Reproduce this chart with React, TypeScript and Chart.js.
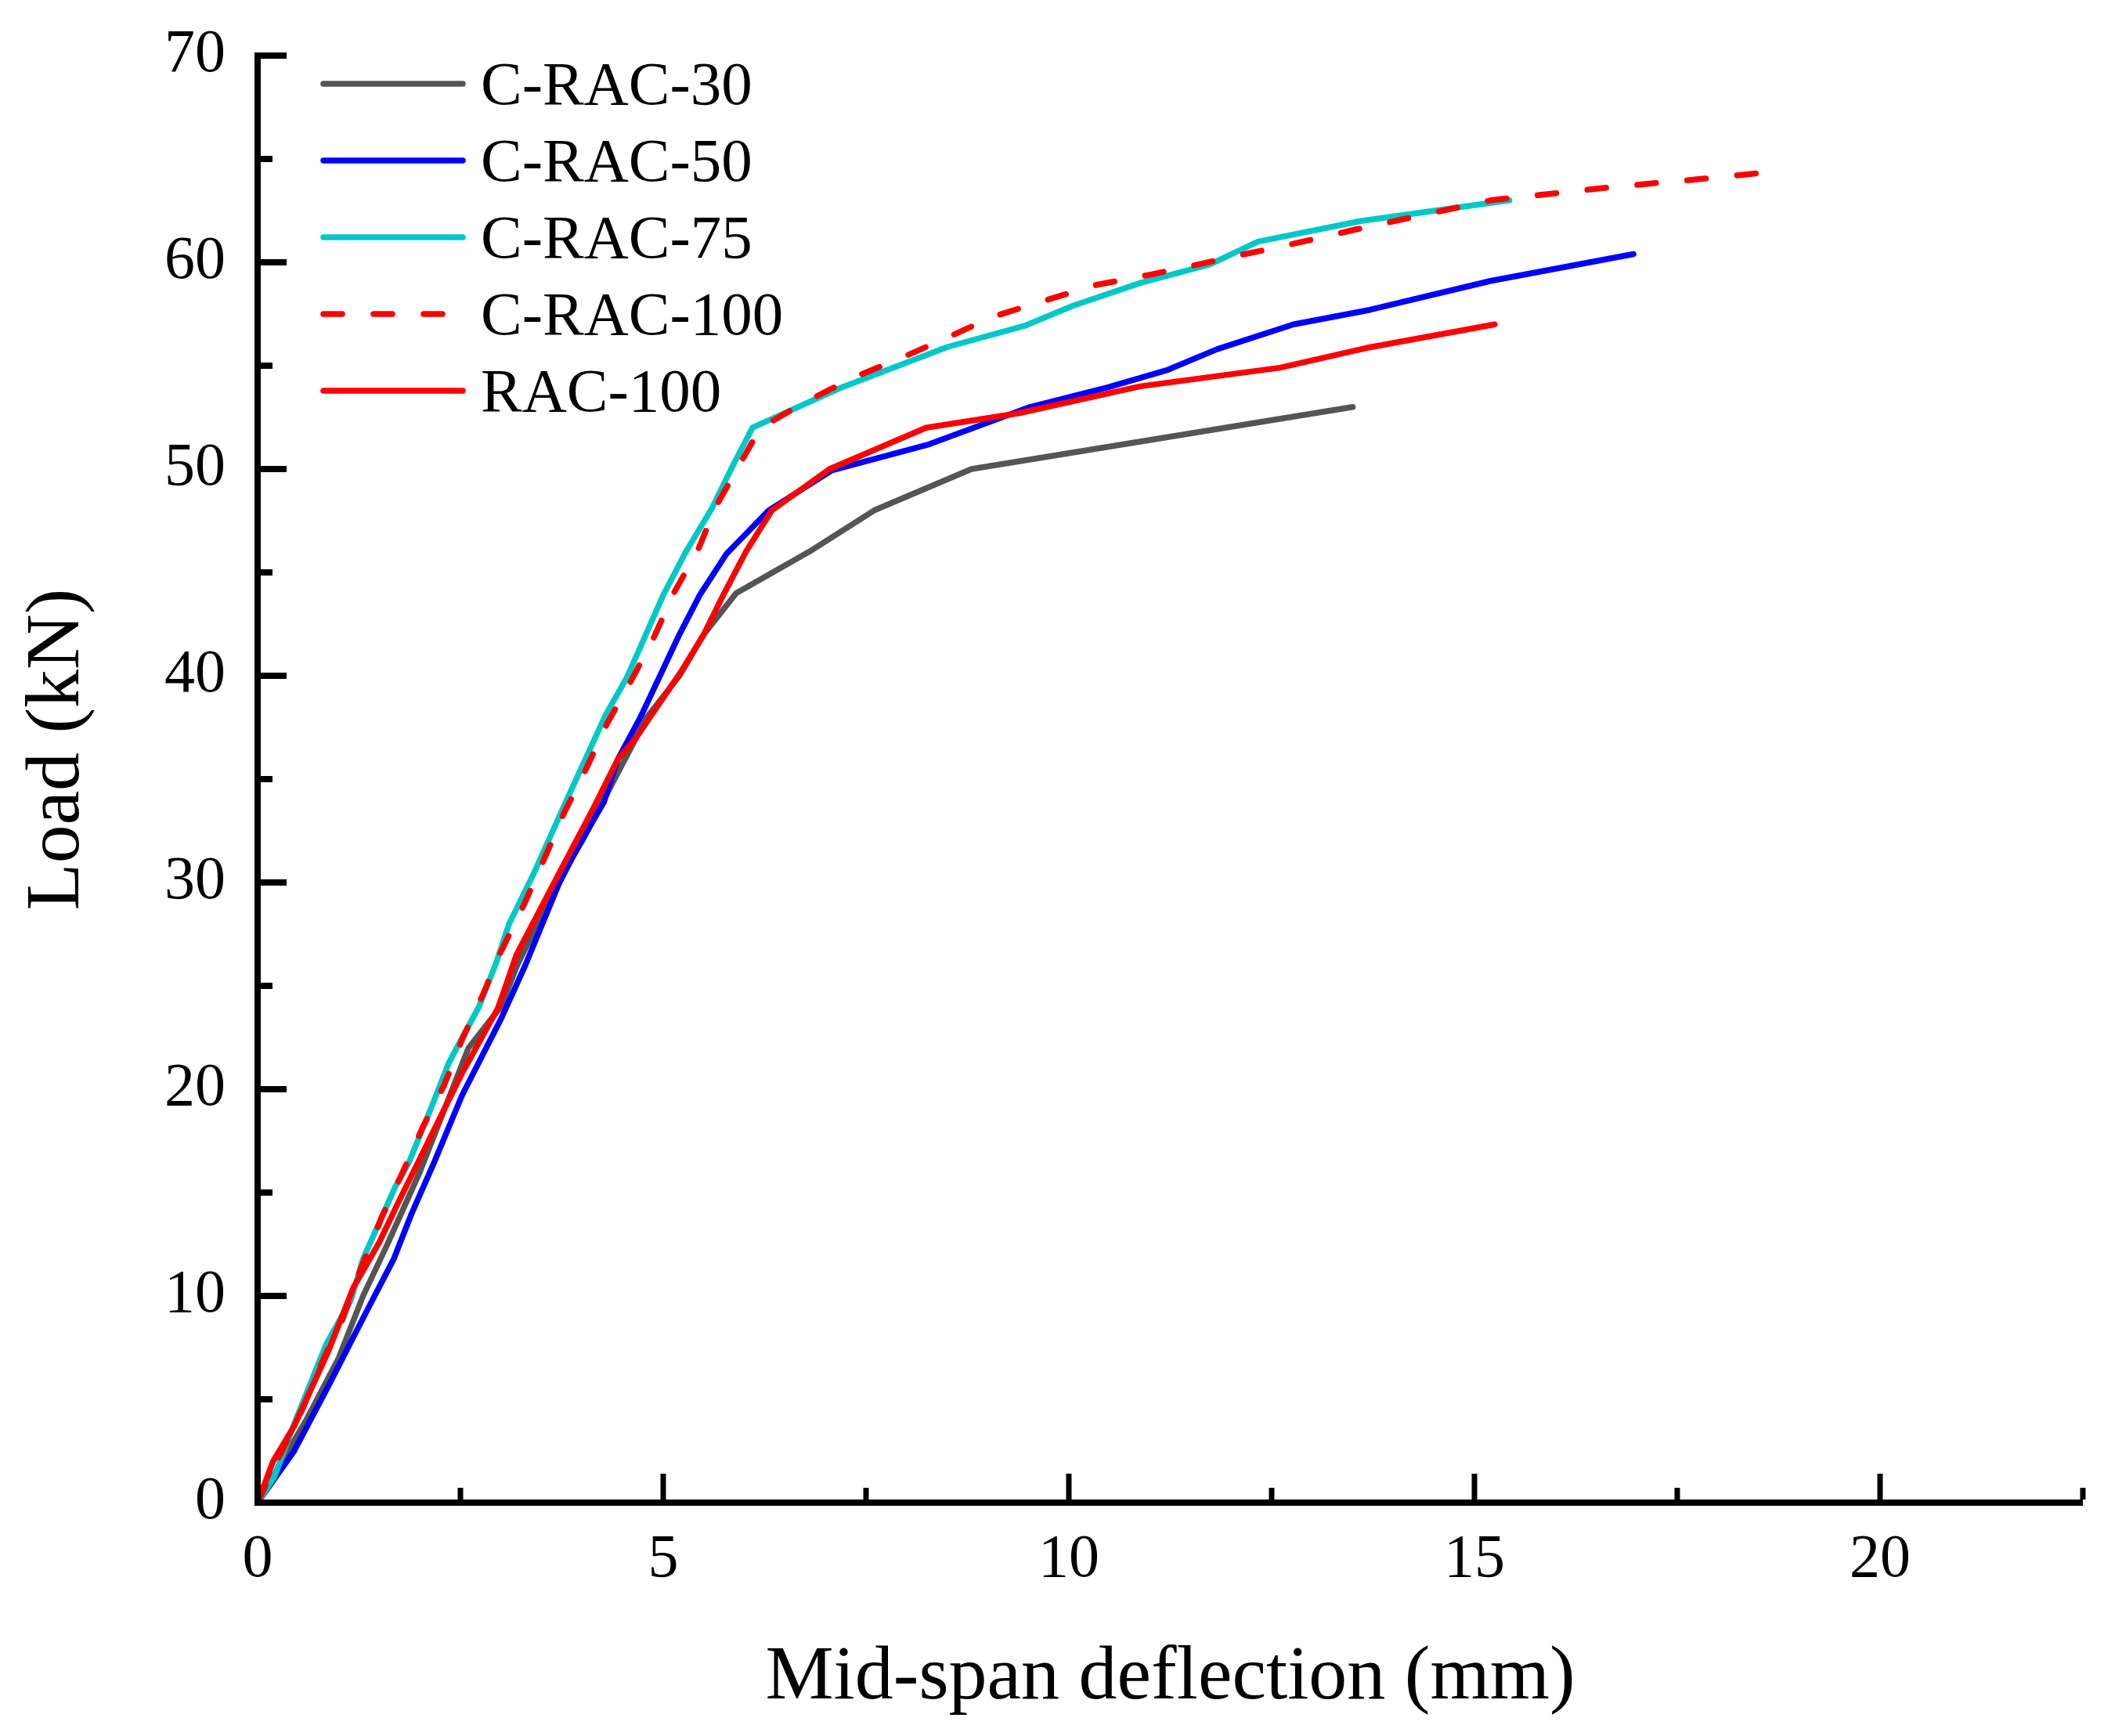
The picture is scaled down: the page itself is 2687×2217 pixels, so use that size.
import React, { useEffect, useRef } from "react";
import { Chart, registerables, ChartConfiguration, Plugin } from "chart.js";

Chart.register(...registerables);

// Mid-span deflection (mm) / load (kN)
const crac30X = [0, 0.3, 0.6, 1.0, 1.3, 1.6, 2.0, 2.3, 2.6, 3.0, 3.2, 3.7, 4.0, 4.4, 4.8, 5.2, 5.5, 5.9, 6.8, 7.6, 8.8, 13.5];
const crac30Y = [0, 2, 4, 7, 10, 12.5, 16, 19, 22, 24, 26, 30, 32, 35, 38, 40, 42, 44, 46, 48, 50, 53];

const crac50X = [0, 0.45, 0.88, 1.31, 1.68, 1.9, 2.18, 2.52, 3.0, 3.3, 3.71, 3.93, 4.27, 4.44, 4.72, 5.2, 5.45, 5.78, 6.3, 7.08, 8.28, 9.52, 10.49, 11.22, 11.83, 12.77, 13.71, 15.2, 16.96];
const crac50Y = [0, 2.5, 5.7, 9.0, 11.8, 14, 16.5, 19.7, 23.4, 26, 29.9, 31.6, 33.9, 35.96, 38, 42, 43.9, 45.9, 48, 49.94, 51.2, 53, 53.96, 54.8, 55.8, 57, 57.7, 59.1, 60.4];

const crac75X = [0, 0.2, 0.45, 0.85, 1.15, 1.3, 1.7, 1.87, 2.17, 2.36, 2.51, 2.73, 2.94, 3.1, 3.4, 3.8, 4.29, 4.55, 5.0, 5.28, 5.6, 5.85, 6.1, 7.17, 8.5, 9.47, 10.05, 10.88, 11.74, 12.33, 13.6, 15.43];
const crac75Y = [0, 1.2, 3.8, 7.7, 9.8, 11.8, 15.3, 16.5, 19.4, 21.3, 22.4, 24, 26.1, 28, 30.4, 33.9, 38.1, 39.9, 43.9, 46, 48.1, 50.1, 52, 53.9, 55.9, 56.95, 57.9, 59, 59.9, 61, 62, 63];

const crac100X = [0, 0.25, 0.55, 0.84, 1.05, 1.27, 1.53, 1.79, 2.04, 2.3, 2.52, 2.78, 2.98, 3.28, 3.54, 3.77, 4.05, 4.31, 4.61, 4.89, 5.13, 5.43, 5.65, 6.04, 6.2, 6.78, 7.33, 7.89, 8.47, 9.05, 9.66, 10.33, 11.0, 11.6, 12.05, 12.66, 13.55, 14.49, 15.2, 16.6, 17.84, 18.47];
const crac100Y = [0, 2.1, 4.5, 7.2, 8.9, 11.3, 13.8, 16.0, 18.2, 20.2, 22.4, 24.6, 26.5, 28.9, 31.2, 33.3, 35.5, 37.7, 39.8, 41.9, 44.0, 46.1, 48.2, 50.9, 52, 53.3, 54.4, 55.3, 56.3, 57.35, 58.1, 58.9, 59.4, 59.9, 60.3, 60.8, 61.6, 62.4, 63.0, 63.6, 64.05, 64.3];

const rac100X = [0, 0.19, 0.45, 0.88, 1.18, 1.5, 1.75, 2.09, 2.51, 2.96, 3.05, 3.19, 3.71, 4.14, 4.44, 4.66, 5.22, 5.5, 5.74, 6.02, 6.34, 7.05, 8.24, 9.38, 10.88, 12.6, 13.66, 15.25];
const rac100Y = [0, 2.0, 3.7, 7.4, 10.4, 12.6, 14.65, 17.35, 20.7, 23.9, 24.9, 26.5, 30.4, 33.6, 35.96, 36.97, 40.2, 42, 43.9, 46, 48, 50, 52, 52.7, 54, 54.9, 55.85, 57];

const seriesNames = ["C-RAC-30", "C-RAC-50", "C-RAC-75", "C-RAC-100", "RAC-100"];
const seriesColors = ["#555555", "#0000FF", "#00C8C8", "#FF0000", "#FF0000"];
const seriesDashed = [false, false, false, true, false];
const seriesX = [crac30X, crac50X, crac75X, crac100X, rac100X];
const seriesY = [crac30Y, crac50Y, crac75Y, crac100Y, rac100Y];
// lower order is painted on top
const seriesOrder = [4, 3, 2, 1, 0];

const xMax = 22.5;
const yMax = 70;

const FONT = '"Liberation Serif", "Times New Roman", serif';
const DASH = [24, 40];
const LINE_W = 7.5;

const axesPlugin: Plugin<"line"> = {
  id: "originAxes",
  afterDatasetsDraw(chart) {
    const { ctx, chartArea, scales } = chart;
    const xs = scales.x;
    const ys = scales.y;
    ctx.save();
    ctx.strokeStyle = "#000";
    ctx.lineCap = "butt";

    // inward tick marks
    ctx.lineWidth = 7;
    xs.ticks.forEach((t) => {
      if (t.value === 0) return;
      const px = xs.getPixelForValue(t.value);
      const len = t.value % 5 === 0 ? 33 : 15;
      ctx.beginPath();
      ctx.moveTo(px, chartArea.bottom - 4);
      ctx.lineTo(px, chartArea.bottom - 4 - len);
      ctx.stroke();
    });
    ctx.lineWidth = 8;
    ys.ticks.forEach((t) => {
      if (t.value === 0) return;
      const py = ys.getPixelForValue(t.value);
      const len = t.value % 10 === 0 ? 33 : 15;
      ctx.beginPath();
      ctx.moveTo(chartArea.left + 4, py);
      ctx.lineTo(chartArea.left + 4 + len, py);
      ctx.stroke();
    });

    // axis lines
    ctx.lineWidth = 8;
    ctx.beginPath();
    ctx.moveTo(chartArea.left, chartArea.top - 4);
    ctx.lineTo(chartArea.left, chartArea.bottom + 4);
    ctx.stroke();
    ctx.beginPath();
    ctx.moveTo(chartArea.left - 4, chartArea.bottom);
    ctx.lineTo(chartArea.right, chartArea.bottom);
    ctx.stroke();
    ctx.restore();
  },
  afterDraw(chart) {
    const { ctx, chartArea } = chart;
    ctx.save();
    ctx.fillStyle = "#000";

    // axis titles
    ctx.font = `98px ${FONT}`;
    ctx.textAlign = "center";
    ctx.textBaseline = "alphabetic";
    ctx.fillText("Mid-span deflection (mm)", (chartArea.left + chartArea.right) / 2, chartArea.bottom + 250);

    ctx.save();
    ctx.translate(chartArea.left - 229, chartArea.top + 886);
    ctx.rotate(-Math.PI / 2);
    ctx.fillText("Load (kN)", 0, 0);
    ctx.restore();

    // legend
    const lx0 = chartArea.left + 84;
    const lx1 = chartArea.left + 262;
    const tx = chartArea.left + 285;
    ctx.font = `79px ${FONT}`;
    ctx.textAlign = "left";
    seriesNames.forEach((name, i) => {
      const rowY = chartArea.top + 36 + i * 98;
      ctx.strokeStyle = seriesColors[i];
      ctx.lineWidth = LINE_W;
      ctx.lineCap = "round";
      ctx.setLineDash(seriesDashed[i] ? DASH : []);
      ctx.beginPath();
      ctx.moveTo(lx0, rowY);
      ctx.lineTo(lx1, rowY);
      ctx.stroke();
      ctx.setLineDash([]);
      ctx.fillText(name, tx, rowY + 26);
    });
    ctx.restore();
  },
};

const App: React.FC = () => {
  const canvasRef = useRef<HTMLCanvasElement | null>(null);
  const chartRef = useRef<Chart<"line"> | null>(null);

  useEffect(() => {
    document.body.style.margin = "0";
    const canvas = canvasRef.current;
    if (!canvas) return;
    const ctx = canvas.getContext("2d");
    if (!ctx) return;

    if (chartRef.current) chartRef.current.destroy();

    const datasets = seriesNames.map((name, i) => ({
      label: name,
      data: seriesX[i].map((x, j) => ({ x, y: seriesY[i][j] })),
      borderColor: seriesColors[i],
      backgroundColor: seriesColors[i],
      borderWidth: LINE_W,
      borderDash: seriesDashed[i] ? DASH : [],
      borderCapStyle: "round" as const,
      borderJoinStyle: "round" as const,
      pointRadius: 0,
      tension: 0,
      fill: false,
      order: seriesOrder[i],
    }));

    const config: ChartConfiguration<"line"> = {
      type: "line",
      data: { datasets },
      options: {
        animation: false,
        responsive: false,
        devicePixelRatio: 1,
        layout: { padding: { top: 71, right: 27, left: 0, bottom: 0 } },
        plugins: {
          legend: { display: false },
          tooltip: { enabled: false },
        },
        scales: {
          x: {
            type: "linear",
            min: 0,
            max: xMax,
            grid: { display: false, drawTicks: false },
            border: { display: false },
            ticks: {
              stepSize: 2.5,
              autoSkip: false,
              maxRotation: 0,
              padding: 27,
              color: "#000",
              font: { family: FONT, size: 78 },
              callback: (v) => (Number(v) % 5 === 0 ? String(v) : ""),
            },
            afterFit: (scale) => {
              scale.height = 298;
              scale.paddingLeft = 0;
              scale.paddingRight = 0;
            },
          },
          y: {
            type: "linear",
            min: 0,
            max: yMax,
            grid: { display: false, drawTicks: false },
            border: { display: false },
            ticks: {
              stepSize: 5,
              autoSkip: false,
              padding: 41,
              color: "#000",
              font: { family: FONT, size: 78 },
              callback: (v) => (Number(v) % 10 === 0 ? String(v) : ""),
            },
            afterFit: (scale) => {
              scale.width = 329;
              scale.paddingTop = 0;
              scale.paddingBottom = 0;
            },
          },
        },
      },
      plugins: [axesPlugin],
    };

    chartRef.current = new Chart(ctx, config);

    return () => {
      if (chartRef.current) {
        chartRef.current.destroy();
        chartRef.current = null;
      }
    };
  }, []);

  return (
    <div style={{ width: 2687, height: 2217, background: "#fff" }}>
      <canvas ref={canvasRef} width={2687} height={2217} style={{ display: "block" }} />
    </div>
  );
};

export default App;
